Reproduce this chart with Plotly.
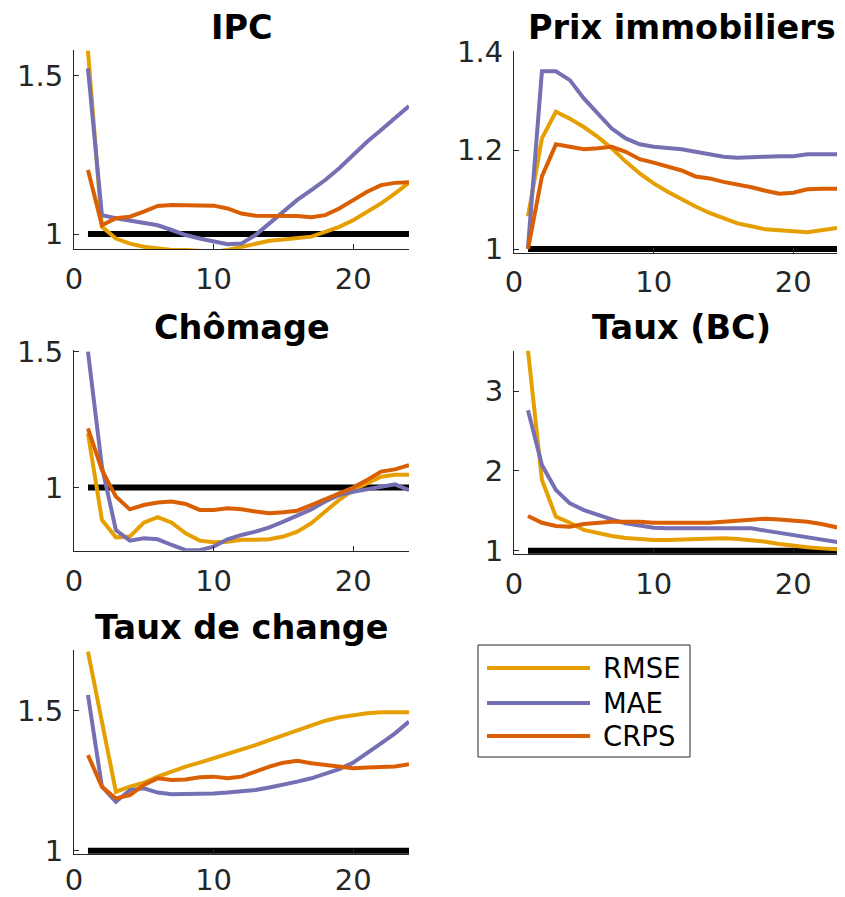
import plotly.graph_objects as go

horizons = list(range(1, 25))
series_names = ["RMSE", "MAE", "CRPS"]
series_colors = ["#E69F00", "#7570B3", "#D95F02"]
panel_titles = ["IPC", "Prix immobiliers", "Chômage", "Taux (BC)", "Taux de change"]

ipc_rmse = [1.58, 1.023, 0.986, 0.97, 0.96, 0.955, 0.95, 0.95, 0.947, 0.944, 0.95, 0.96,
            0.97, 0.979, 0.983, 0.986, 0.992, 1.007, 1.023, 1.044, 1.071, 1.097, 1.129, 1.162]
ipc_mae = [1.524, 1.06, 1.05, 1.042, 1.036, 1.028, 1.013, 0.997, 0.986, 0.976, 0.968, 0.97,
           0.997, 1.034, 1.071, 1.108, 1.139, 1.171, 1.208, 1.25, 1.292, 1.329, 1.366, 1.405]
ipc_crps = [1.203, 1.028, 1.05, 1.055, 1.071, 1.089, 1.092, 1.092, 1.092, 1.09, 1.081, 1.065,
            1.058, 1.058, 1.058, 1.057, 1.053, 1.06, 1.081, 1.108, 1.134, 1.155, 1.162, 1.164]

prix_rmse = [1.066, 1.224, 1.278, 1.264, 1.247, 1.227, 1.204, 1.177, 1.153, 1.133, 1.116, 1.1,
             1.086, 1.073, 1.063, 1.052, 1.046, 1.04, 1.038, 1.036, 1.034, 1.038, 1.042, 1.046]
prix_mae = [1.003, 1.36, 1.36, 1.342, 1.305, 1.274, 1.244, 1.224, 1.212, 1.207, 1.205, 1.202,
            1.197, 1.192, 1.187, 1.185, 1.185, 1.187, 1.188, 1.188, 1.192, 1.192, 1.192, 1.192]
prix_crps = [1.0, 1.147, 1.212, 1.207, 1.202, 1.204, 1.207, 1.197, 1.182, 1.175, 1.167, 1.159,
             1.147, 1.143, 1.136, 1.131, 1.125, 1.118, 1.112, 1.114, 1.121, 1.122, 1.122, 1.122]

chom_rmse = [1.2, 0.881, 0.817, 0.82, 0.871, 0.891, 0.871, 0.832, 0.805, 0.799, 0.801, 0.808,
             0.808, 0.81, 0.82, 0.838, 0.869, 0.912, 0.955, 0.991, 1.016, 1.04, 1.047, 1.047]
chom_mae = [1.5, 1.077, 0.844, 0.805, 0.814, 0.81, 0.789, 0.77, 0.77, 0.783, 0.81, 0.826,
            0.838, 0.854, 0.875, 0.896, 0.92, 0.949, 0.973, 0.985, 0.994, 1.006, 1.012, 0.991]
chom_crps = [1.218, 1.065, 0.967, 0.92, 0.936, 0.945, 0.949, 0.94, 0.918, 0.918, 0.924, 0.92,
             0.912, 0.906, 0.909, 0.915, 0.936, 0.957, 0.977, 1.0, 1.028, 1.059, 1.067, 1.083]

taux_rmse = [3.51, 1.885, 1.426, 1.35, 1.26, 1.217, 1.184, 1.159, 1.142, 1.134, 1.134, 1.142,
             1.15, 1.155, 1.155, 1.146, 1.134, 1.113, 1.084, 1.058, 1.042, 1.029, 1.017, 1.008]
taux_mae = [2.76, 2.073, 1.76, 1.593, 1.509, 1.447, 1.392, 1.342, 1.309, 1.288, 1.28, 1.28,
            1.284, 1.288, 1.292, 1.288, 1.28, 1.251, 1.225, 1.196, 1.167, 1.142, 1.113, 1.084]
taux_crps = [1.434, 1.35, 1.309, 1.3, 1.334, 1.35, 1.363, 1.363, 1.363, 1.35, 1.35, 1.35,
             1.35, 1.35, 1.363, 1.376, 1.392, 1.4, 1.392, 1.376, 1.363, 1.334, 1.292, 1.259]

change_rmse = [1.712, 1.456, 1.211, 1.229, 1.243, 1.265, 1.283, 1.301, 1.315, 1.331, 1.346, 1.36,
               1.378, 1.396, 1.414, 1.432, 1.45, 1.465, 1.477, 1.486, 1.492, 1.495, 1.495, 1.495]
change_mae = [1.557, 1.229, 1.175, 1.217, 1.223, 1.208, 1.202, 1.202, 1.202, 1.205, 1.208, 1.211,
              1.217, 1.226, 1.235, 1.247, 1.259, 1.274, 1.292, 1.315, 1.348, 1.384, 1.42, 1.462]
change_crps = [1.342, 1.229, 1.187, 1.199, 1.235, 1.259, 1.253, 1.255, 1.263, 1.265, 1.259, 1.265,
               1.283, 1.301, 1.315, 1.322, 1.313, 1.307, 1.298, 1.295, 1.298, 1.301, 1.301, 1.309]

reference_level = [1.0] * len(horizons)

panels_data = [
    (ipc_rmse, ipc_mae, ipc_crps),
    (prix_rmse, prix_mae, prix_crps),
    (chom_rmse, chom_mae, chom_crps),
    (taux_rmse, taux_mae, taux_crps),
    (change_rmse, change_mae, change_crps),
]
y_ticks = [[1, 1.5], [1, 1.2, 1.4], [1, 1.5], [1, 2, 3], [1, 1.5]]
x_ticks = [0, 10, 20]

# The page body adds an 8px offset; the figure is sized and positioned to compensate.
OFF = 8
W, H = 845 - OFF, 897 - OFF


def px(xr):
    return (xr - OFF) / W


def py(yr):
    return 1 - (yr - OFF) / H


# window-pixel geometry: (left, right, top, bottom)
geom = [
    (74, 409, 50, 249.3),
    (514, 845, 50.5, 252.5),
    (74, 409, 350, 550.7),
    (514, 845, 350.7, 554.2),
    (74, 409, 650, 854.2),
]
x_ranges = [[0, 24], [0, 23.7], [0, 24], [0, 23.7], [0, 24]]
y_ranges = [[0.952, 1.582], [0.993, 1.402], [0.768, 1.506], [0.956, 3.505], [0.9875, 1.718]]
x_standoff = [4, 4, 4, 4, 0]
title_y = [27, 27, 327, 327, 627]

AX = "#262626"
fig = go.Figure()
layout = dict(
    width=W, height=H, margin=dict(l=0, r=0, t=0, b=0, pad=0, autoexpand=False),
    paper_bgcolor="white", plot_bgcolor="white", showlegend=False,
    font=dict(family="DejaVu Sans", color=AX),
)
annotations = []
shapes = []

for i, (data, geo) in enumerate(zip(panels_data, geom)):
    n = "" if i == 0 else str(i + 1)
    xa, ya = "x" + n, "y" + n
    l, r, t, b = geo
    layout["xaxis" + n] = dict(
        domain=[px(l), min(1.0, px(r))], range=x_ranges[i], anchor=ya, automargin=False,
        tickvals=x_ticks, ticks="inside", ticklen=5, tickcolor=AX,
        showline=True, linecolor=AX, linewidth=1, showgrid=False, zeroline=False,
        tickfont=dict(size=29, color=AX), ticklabelstandoff=x_standoff[i],
    )
    layout["yaxis" + n] = dict(
        domain=[py(b), py(t)], range=y_ranges[i], anchor=xa, automargin=False,
        tickvals=y_ticks[i], ticks="inside", ticklen=5, tickcolor=AX,
        showline=True, linecolor=AX, linewidth=1, showgrid=False, zeroline=False,
        tickfont=dict(size=29, color=AX), ticklabelstandoff=4,
    )
    fig.add_trace(go.Scatter(x=horizons, y=reference_level, mode="lines",
                             line=dict(color="black", width=6), xaxis=xa, yaxis=ya,
                             hoverinfo="skip"))
    for vals, name, col in zip(data, series_names, series_colors):
        fig.add_trace(go.Scatter(x=horizons, y=vals, mode="lines", name=name,
                                 line=dict(color=col, width=4), xaxis=xa, yaxis=ya))
    annotations.append(dict(
        text="<b>%s</b>" % panel_titles[i], xref="paper", yref="paper",
        x=px((l + (r if i % 2 == 0 else 849)) / 2), y=py(title_y[i]),
        xanchor="center", yanchor="middle", showarrow=False,
        font=dict(size=33.5, color="black", family="DejaVu Sans"),
    ))

# manual legend
lg_l, lg_r, lg_t, lg_b = 478, 690, 645, 757
shapes.append(dict(type="rect", xref="paper", yref="paper",
                   x0=px(lg_l), x1=px(lg_r), y0=py(lg_b), y1=py(lg_t),
                   line=dict(color=AX, width=1), fillcolor="white"))
for name, col, yy in zip(series_names, series_colors, [668, 703, 736]):
    shapes.append(dict(type="line", xref="paper", yref="paper",
                       x0=px(487), x1=px(590), y0=py(yy), y1=py(yy),
                       line=dict(color=col, width=4)))
    annotations.append(dict(text=name, xref="paper", yref="paper", x=px(601), y=py(yy),
                            xanchor="left", yanchor="middle", showarrow=False,
                            font=dict(size=27.5, color="black", family="DejaVu Sans")))

layout["annotations"] = annotations
layout["shapes"] = shapes
fig.update_layout(**layout)
fig.write_html("out.html")
